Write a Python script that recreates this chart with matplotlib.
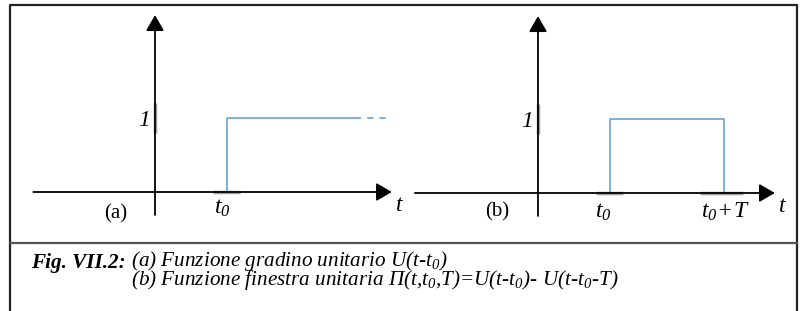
import matplotlib
matplotlib.use('Agg')
from matplotlib import pyplot as plt

plt.rcParams['font.family'] = ['Liberation Serif', 'DejaVu Serif']
plt.rcParams['mathtext.fontset'] = 'custom'
plt.rcParams['mathtext.rm'] = 'Liberation Serif:italic'
plt.rcParams['mathtext.it'] = 'Liberation Serif:italic'
plt.rcParams['mathtext.bf'] = 'Liberation Serif:italic:bold'

# signal data (units: t0 = 1, amplitude = 1)
t0 = 1.0
T = 1.58
level = 1.0
step_x = [t0, t0, 2.78]
step_y = [0, level, level]
step_tail_x = [2.78, 3.26]
window_x = [t0, t0, t0 + T, t0 + T]
window_y = [0, level, level, 0]

# axis extents for each panel
axis_a_x = [-1.69, 3.29]
axis_b_x = [-1.71, 3.29]
axis_y = [-0.31, 2.39]

caption_head = 'Fig. VII.2:'
caption_body = ('(a) Funzione gradino unitario U(t-t$_0$)\n'
                '(b) Funzione finestra unitaria Π(t,t$_0$,T)=U(t-t$_0$)- U(t-t$_0$-T)')

blue = '#5b9bd5'
grey = '#a0a0a0'

fig = plt.figure(figsize=(8, 3.11), dpi=100)

# frame around the figure, in pixel coordinates
bg = fig.add_axes([0, 0, 1, 1])
bg.set_xlim(0, 800)
bg.set_ylim(311, 0)
bg.axis('off')
bg.plot([10, 10, 797, 797], [311, 5, 5, 311], color='#222222', lw=1.6)
bg.plot([10, 797], [243, 243], color='#555555', lw=1.6)
head = bg.text(31, 268, caption_head, fontsize=15.2, style='italic', weight='bold',
               va='baseline', ha='left')
# baseline of a multi-line text is its last line
bg.annotate(caption_body, xy=(1, 285), xycoords=(head, 'data'), xytext=(4, 0),
            textcoords='offset points', fontsize=15.2, style='italic',
            va='baseline', ha='left', linespacing=0.7)


def panel(origin_x, origin_y, ax_x):
    # axes covering the whole figure, scaled so the origin lands on (origin_x, origin_y) px
    ax = fig.add_axes([0, 0, 1, 1])
    ax.set_xlim((0 - origin_x) / 72, (800 - origin_x) / 72)
    ax.set_ylim((origin_y - 311) / 74, origin_y / 74)
    ax.axis('off')
    ax.patch.set_alpha(0)
    arrow = dict(arrowstyle='-|>,head_length=0.95,head_width=0.55', mutation_scale=10,
                 color='black', lw=1.3, shrinkA=0, shrinkB=0)
    ax.annotate('', xy=(ax_x[1], 0), xytext=(ax_x[0], 0), arrowprops=arrow)
    ax.annotate('', xy=(0, axis_y[1]), xytext=(0, axis_y[0]), arrowprops=arrow)
    # grey tick marks
    ax.plot([0, 0], [level - 0.2, level + 0.2], color=grey, lw=2.5, solid_capstyle='butt')
    ax.text(-0.07, level - 0.03, '1', fontsize=17, style='italic', ha='right', va='center')
    ax.text(ax_x[1] + 0.05, -0.18, '$t$', fontsize=17, ha='left', va='center')
    return ax


ax_a = panel(155, 192, axis_a_x)
ax_a.plot([t0 - 0.19, t0 + 0.18], [0, 0], color=grey, lw=2.5, solid_capstyle='butt')
ax_a.plot(step_x, step_y, color=blue, lw=1.1)
ax_a.plot(step_tail_x, [level, level], color=blue, lw=1.1, dashes=(4, 4))
ax_a.text(t0 - 0.07, -0.22, r'$t_0$', fontsize=17, ha='center', va='center')
ax_a.text(-0.55, -0.29, '(a)', fontsize=15, ha='center', va='center')

ax_b = panel(538, 193, axis_b_x)
ax_b.plot([t0 - 0.2, t0 + 0.18], [0, 0], color=grey, lw=2.5, solid_capstyle='butt')
ax_b.plot([t0 + T - 0.33, t0 + T + 0.27], [0, 0], color=grey, lw=2.5, solid_capstyle='butt')
ax_b.plot(window_x, window_y, color=blue, lw=1.1)
ax_b.text(t0 - 0.09, -0.26, r'$t_0$', fontsize=17, ha='center', va='center')
ax_b.text(t0 + T + 0.02, -0.26, r'$t_0\!+\!T$', fontsize=17, ha='center', va='center')
ax_b.text(-0.57, -0.26, '(b)', fontsize=15, ha='center', va='center')

fig.savefig('out.png', dpi=100)
